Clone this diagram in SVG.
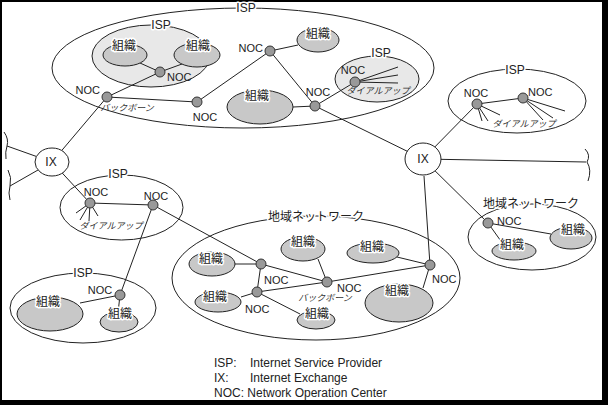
<svg xmlns="http://www.w3.org/2000/svg" width="608" height="405" viewBox="0 0 608 405">
<style>
.ln{stroke:#222;stroke-width:1;fill:none}
.ell{fill:#fff;stroke:#222;stroke-width:1}
.ellg{fill:#e8e8e8;stroke:#222;stroke-width:1}
.org{fill:#c8c8c8;stroke:#222;stroke-width:1}
.noc{fill:#999;stroke:#333;stroke-width:1}
.ix{fill:#fff;stroke:#222;stroke-width:1}
.t{font-family:"Liberation Sans",Arial,sans-serif;font-size:11px;fill:#222}
.tl{font-family:"Liberation Sans",Arial,sans-serif;font-size:12px;fill:#222}
.j{font-family:"Liberation Sans","Noto Sans CJK JP",sans-serif;font-size:12px;fill:#222}
.js{font-family:"Liberation Sans","Noto Sans CJK JP",sans-serif;font-size:9px;fill:#333;font-style:italic}
.h{paint-order:stroke;stroke:#fff;stroke-width:3;stroke-linejoin:round}
.m{text-anchor:middle}
.e{text-anchor:end}
</style>
<rect x="0" y="0" width="608" height="405" fill="#000"/>
<rect x="2" y="2" width="600" height="398" fill="#fff"/>

<!-- containers -->
<g id="isp-top">
<ellipse class="ell" cx="243" cy="68" rx="191" ry="60"/>
<text class="tl m h" x="246" y="12">ISP</text>
</g>
<g id="isp-top-inner">
<ellipse class="ellg" cx="151" cy="56" rx="59" ry="31"/>
<text class="tl m h" x="161" y="29">ISP</text>
</g>
<g id="isp-dialup">
<ellipse class="ellg" cx="377" cy="79" rx="42" ry="23"/>
<text class="tl m h" x="381" y="57">ISP</text>
<text class="js m" x="378" y="94">ダイアルアップ</text>
</g>
<g id="isp-right">
<ellipse class="ell" cx="517" cy="101" rx="69" ry="32"/>
<text class="tl m h" x="515" y="74">ISP</text>
<text class="js m" x="524" y="127">ダイアルアップ</text>
</g>
<g id="isp-left">
<ellipse class="ell" cx="121.5" cy="207.5" rx="61.5" ry="32.5"/>
<text class="tl m h" x="118" y="178">ISP</text>
<text class="js m" x="111" y="229">ダイアルアップ</text>
</g>
<g id="isp-bottom">
<ellipse class="ell" cx="83" cy="308" rx="73" ry="35"/>
<text class="tl m h" x="83" y="277">ISP</text>
</g>
<g id="region-center">
<ellipse class="ell" cx="316" cy="278" rx="144" ry="62"/>
<text class="j m h" x="316" y="221">地域ネットワーク</text>
<text class="js m" x="325" y="301">バックボーン</text>
</g>
<g id="region-right">
<ellipse class="ell" cx="532" cy="237" rx="64" ry="33"/>
<text class="j m h" x="531" y="208">地域ネットワーク</text>
</g>

<!-- connectors -->
<g id="connectors" class="ln">
<line x1="160" y1="72" x2="140" y2="63"/>
<line x1="160" y1="72" x2="182" y2="64"/>
<line x1="107" y1="97" x2="160" y2="72"/>
<line x1="107" y1="97" x2="197" y2="102"/>
<line x1="197" y1="102" x2="270" y2="51"/>
<line x1="270" y1="51" x2="298" y2="45"/>
<line x1="270" y1="51" x2="315" y2="106"/>
<line x1="293" y1="107" x2="315" y2="106"/>
<line x1="315" y1="106" x2="355" y2="82"/>
<line x1="355" y1="82" x2="398" y2="67"/>
<line x1="355" y1="82" x2="398" y2="75"/>
<line x1="355" y1="82" x2="398" y2="83"/>
<line x1="315" y1="106" x2="423" y2="159"/>
<line x1="52" y1="162" x2="107" y2="97"/>
<line x1="52" y1="162" x2="7" y2="146"/>
<line x1="52" y1="162" x2="10" y2="186"/>
<line x1="52" y1="162" x2="90" y2="203"/>
<line x1="90" y1="203" x2="153" y2="205"/>
<line x1="90" y1="203" x2="76" y2="213"/>
<line x1="90" y1="203" x2="80" y2="220"/>
<line x1="90" y1="203" x2="89" y2="221"/>
<line x1="90" y1="203" x2="98" y2="216"/>
<line x1="153" y1="205" x2="120" y2="295"/>
<line x1="153" y1="205" x2="261" y2="264"/>
<line x1="261" y1="264" x2="257" y2="292"/>
<line x1="261" y1="264" x2="327" y2="282"/>
<line x1="257" y1="292" x2="327" y2="282"/>
<line x1="327" y1="282" x2="430" y2="265"/>
<line x1="430" y1="265" x2="424" y2="176"/>
<line x1="235" y1="264" x2="261" y2="264"/>
<line x1="318" y1="259" x2="327" y2="282"/>
<line x1="397" y1="257" x2="430" y2="265"/>
<line x1="423" y1="288" x2="430" y2="265"/>
<line x1="241" y1="297" x2="257" y2="292"/>
<line x1="300" y1="314" x2="257" y2="292"/>
<line x1="80" y1="303" x2="120" y2="295"/>
<line x1="118" y1="313" x2="120" y2="295"/>
<line x1="423" y1="159" x2="586" y2="162"/>
<line x1="423" y1="159" x2="477" y2="104"/>
<line x1="477" y1="104" x2="523" y2="98"/>
<line x1="477" y1="104" x2="482" y2="121"/>
<line x1="477" y1="104" x2="488" y2="121"/>
<line x1="477" y1="104" x2="500" y2="115"/>
<line x1="523" y1="98" x2="543" y2="120"/>
<line x1="523" y1="98" x2="553" y2="118"/>
<line x1="523" y1="98" x2="565" y2="111"/>
<line x1="423" y1="159" x2="488" y2="223"/>
<line x1="488" y1="223" x2="551" y2="234"/>
<line x1="488" y1="223" x2="503" y2="244"/>
<path d="M4,132 Q9,139 7,146 Q5,152 6,159"/>
<path d="M8,170 Q12,177 10,186 Q8,193 10,200"/>
<path d="M585,149 Q591,155 587,162 Q592,170 588,181"/>
</g>

<!-- orgs -->
<g id="org-a1"><ellipse class="org" cx="125" cy="55" rx="22" ry="11"/><text class="j m h" x="124" y="50">組織</text></g>
<g id="org-a2"><ellipse class="org" cx="197" cy="55" rx="23" ry="12"/><text class="j m h" x="198" y="50">組織</text></g>
<g id="org-d1"><ellipse class="org" cx="318" cy="40" rx="21" ry="12"/><text class="j m h" x="318" y="38">組織</text></g>
<g id="org-e1"><ellipse class="org" cx="260" cy="107" rx="33" ry="17"/><text class="j m h" x="257" y="100">組織</text></g>
<g id="org-r1"><ellipse class="org" cx="212" cy="264" rx="23" ry="12"/><text class="j m h" x="211" y="263">組織</text></g>
<g id="org-r2"><ellipse class="org" cx="303" cy="249" rx="22" ry="12"/><text class="j m h" x="303" y="246">組織</text></g>
<g id="org-r3"><ellipse class="org" cx="373" cy="253" rx="26" ry="10"/><text class="j m h" x="372" y="251">組織</text></g>
<g id="org-r4"><ellipse class="org" cx="399" cy="303" rx="34" ry="19"/><text class="j m h" x="397" y="295">組織</text></g>
<g id="org-r5"><ellipse class="org" cx="218" cy="302" rx="23" ry="10"/><text class="j m h" x="215" y="301">組織</text></g>
<g id="org-r6"><ellipse class="org" cx="316" cy="320" rx="19" ry="9"/><text class="j m h" x="317" y="318">組織</text></g>
<g id="org-b1"><ellipse class="org" cx="50" cy="314" rx="33" ry="17"/><text class="j m h" x="48" y="306">組織</text></g>
<g id="org-b2"><ellipse class="org" cx="119" cy="322" rx="19" ry="10"/><text class="j m h" x="120" y="318">組織</text></g>
<g id="org-u1"><ellipse class="org" cx="571" cy="238" rx="21" ry="11"/><text class="j m h" x="573" y="234">組織</text></g>
<g id="org-u2"><ellipse class="org" cx="514" cy="251" rx="22" ry="9"/><text class="j m h" x="512" y="249">組織</text></g>

<!-- NOCs -->
<g id="noc-a"><circle class="noc" cx="160" cy="72" r="5"/><text class="t" x="167" y="81">NOC</text></g>
<g id="noc-b"><circle class="noc" cx="107" cy="97" r="5"/><text class="t e" x="100" y="94">NOC</text><text class="js m" x="127" y="111">バックボーン</text></g>
<g id="noc-c"><circle class="noc" cx="197" cy="102" r="5"/><text class="t m" x="205" y="121">NOC</text></g>
<g id="noc-d"><circle class="noc" cx="270" cy="51" r="5"/><text class="t e" x="263" y="52">NOC</text></g>
<g id="noc-e"><circle class="noc" cx="315" cy="106" r="5"/><text class="t m" x="318" y="96">NOC</text></g>
<g id="noc-f"><circle class="noc" cx="355" cy="82" r="5"/><text class="t m" x="353" y="74">NOC</text></g>
<g id="noc-g"><circle class="noc" cx="90" cy="203" r="5"/><text class="t m" x="96" y="196">NOC</text></g>
<g id="noc-h"><circle class="noc" cx="153" cy="205" r="5"/><text class="t m" x="156" y="200">NOC</text></g>
<g id="noc-p"><circle class="noc" cx="120" cy="295" r="5"/><text class="t m" x="100" y="294">NOC</text></g>
<g id="noc-r1"><circle class="noc" cx="261" cy="264" r="5"/><text class="t" x="264" y="284">NOC</text></g>
<g id="noc-r2"><circle class="noc" cx="257" cy="292" r="5"/><text class="t" x="245" y="313">NOC</text></g>
<g id="noc-r3"><circle class="noc" cx="327" cy="282" r="5"/><text class="t" x="337" y="292">NOC</text></g>
<g id="noc-r4"><circle class="noc" cx="430" cy="265" r="5"/><text class="t" x="432" y="283">NOC</text></g>
<g id="noc-s"><circle class="noc" cx="477" cy="104" r="5"/><text class="t m" x="476" y="97">NOC</text></g>
<g id="noc-t"><circle class="noc" cx="523" cy="98" r="5"/><text class="t" x="528" y="96">NOC</text></g>
<g id="noc-u"><circle class="noc" cx="488" cy="223" r="5"/><text class="t" x="497" y="225">NOC</text></g>

<!-- IX -->
<g id="ix-left"><ellipse class="ix" cx="52" cy="162" rx="17" ry="14"/><text class="tl m" x="51" y="166">IX</text></g>
<g id="ix-right"><ellipse class="ix" cx="423" cy="159" rx="18" ry="16"/><text class="tl m" x="423" y="163">IX</text></g>

<!-- legend -->
<g id="legend">
<text class="tl" x="214" y="367">ISP:</text><text class="tl" x="250" y="367">Internet Service Provider</text>
<text class="tl" x="214" y="382">IX:</text><text class="tl" x="250" y="382">Internet Exchange</text>
<text class="tl" x="214" y="397">NOC: Network Operation Center</text>
</g>
</svg>
